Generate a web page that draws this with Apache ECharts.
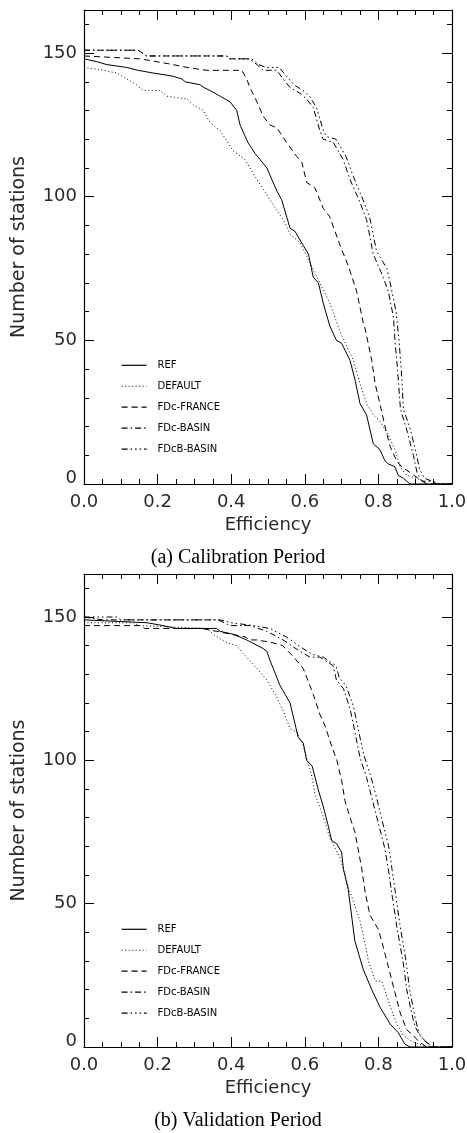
<!DOCTYPE html>
<html><head><meta charset="utf-8">
<script src="https://cdn.jsdelivr.net/npm/echarts@6/dist/echarts.min.js"></script>
<style>html,body{margin:0;padding:0;background:#fff}#c{width:467px;height:1133px}</style>
</head><body><div id="c"></div>
<script>
// ---------- DATA ----------
const seriesNames = ['REF', 'DEFAULT', 'FDc-FRANCE', 'FDc-BASIN', 'FDcB-BASIN'];
const panelTitles = ['(a) Calibration Period', '(b) Validation Period'];
const xAxisName = 'Efficiency';
const yAxisName = 'Number of stations';

// Calibration period: [efficiency, number of stations]
const calREF = [[0,148],[0.035,147],[0.062,146],[0.116,145],[0.147,144],[0.19,143],[0.24,142],[0.266,141],[0.275,140],[0.315,139],[0.326,138],[0.342,137],[0.37,135],[0.397,133],[0.415,130],[0.424,125],[0.445,119],[0.465,115],[0.478,113],[0.497,110],[0.524,102],[0.537,99],[0.56,89],[0.573,88],[0.596,83],[0.61,80],[0.623,72],[0.637,70],[0.65,63],[0.668,55],[0.686,50],[0.70,49],[0.723,43],[0.737,36],[0.75,28],[0.768,24],[0.786,14],[0.804,12],[0.818,8],[0.827,7],[0.845,6],[0.854,3],[0.868,2],[0.886,0],[1,0]];
const calDEFAULT = [[0,145],[0.053,144],[0.09,143],[0.116,141],[0.143,139],[0.161,137],[0.207,137],[0.225,135],[0.28,134],[0.297,132],[0.324,130],[0.342,126],[0.37,123],[0.405,116],[0.437,113],[0.47,106],[0.505,99],[0.541,92],[0.56,87],[0.587,84],[0.614,77],[0.641,70],[0.668,63],[0.696,53],[0.732,43],[0.75,35],[0.768,28],[0.786,24],[0.804,22],[0.827,17],[0.845,12],[0.859,6],[0.877,3],[0.904,2],[0.935,0],[1,0]];
const calFRANCE = [[0,149],[0.152,148],[0.198,147],[0.242,146],[0.28,145],[0.334,144],[0.429,144],[0.442,141],[0.451,138],[0.47,133],[0.487,128],[0.505,125],[0.524,124],[0.55,119],[0.578,114],[0.592,112],[0.605,105],[0.628,103],[0.65,96],[0.668,93],[0.696,83],[0.718,76],[0.741,67],[0.759,56],[0.764,54],[0.782,43],[0.791,35],[0.804,28],[0.818,20],[0.832,13],[0.85,8],[0.863,6],[0.886,4],[0.908,2],[0.931,0],[1,0]];
const calBASIN = [[0,151],[0.147,151],[0.17,149],[0.388,149],[0.395,148],[0.45,148],[0.47,146],[0.487,144],[0.524,144],[0.541,141],[0.56,138],[0.587,136],[0.605,134],[0.623,131],[0.641,123],[0.65,120],[0.677,119],[0.704,113],[0.723,106],[0.75,98],[0.768,92],[0.786,80],[0.813,72],[0.827,67],[0.841,58],[0.845,50],[0.852,40],[0.86,26],[0.879,18],[0.895,10],[0.905,4],[0.918,1],[0.94,1],[0.96,0],[1,0]];
const calFDcB = [[0,151],[0.147,151],[0.17,149],[0.388,149],[0.395,148],[0.455,148],[0.475,146],[0.495,145],[0.53,145],[0.55,142],[0.57,139],[0.595,137],[0.613,135],[0.632,131],[0.648,124],[0.658,121],[0.685,120],[0.712,114],[0.732,107],[0.758,99],[0.776,93],[0.795,81],[0.823,75],[0.832,70],[0.848,60],[0.856,50],[0.862,40],[0.868,26],[0.887,19],[0.902,11],[0.912,5],[0.925,2],[0.945,1],[0.97,0],[1,0]];

// Validation period
const valREF = [[0,149],[0.171,148],[0.215,147],[0.25,146],[0.36,146],[0.37,145],[0.405,144],[0.442,142],[0.487,139],[0.497,138],[0.505,135],[0.533,126],[0.56,120],[0.582,108],[0.596,106],[0.605,100],[0.62,98],[0.636,90],[0.65,84],[0.664,77],[0.673,72],[0.686,71],[0.7,68],[0.705,62],[0.718,55],[0.736,37],[0.759,27],[0.782,20],[0.804,14],[0.832,8],[0.854,5],[0.872,1],[0.886,0],[1,0]];
const valDEFAULT = [[0,148],[0.134,148],[0.15,147],[0.334,146],[0.351,144],[0.388,141],[0.415,140],[0.442,136],[0.47,132],[0.497,128],[0.524,122],[0.542,117],[0.56,111],[0.578,110],[0.596,105],[0.605,101],[0.618,95],[0.628,88],[0.646,82],[0.668,73],[0.696,66],[0.718,56],[0.75,44],[0.764,36],[0.773,30],[0.791,23],[0.809,23],[0.827,16],[0.85,8],[0.868,4],[0.89,2],[0.93,0],[1,0]];
const valFRANCE = [[0,147],[0.152,147],[0.165,146],[0.32,146],[0.36,145],[0.4,144],[0.44,143],[0.447,142],[0.47,142],[0.514,141],[0.54,140],[0.57,136],[0.596,132],[0.623,123],[0.641,116],[0.655,112],[0.673,105],[0.687,100],[0.7,93],[0.709,86],[0.723,80],[0.736,75],[0.745,69],[0.755,62],[0.764,54],[0.777,46],[0.8,41],[0.813,35],[0.827,28],[0.845,19],[0.859,12],[0.877,6],[0.895,4],[0.909,2],[0.931,0],[1,0]];
const valBASIN = [[0,150],[0.05,149],[0.365,149],[0.397,147],[0.451,147],[0.497,145],[0.541,142],[0.587,138],[0.614,136],[0.641,136],[0.677,133],[0.686,128],[0.705,125],[0.723,118],[0.736,110],[0.75,101],[0.768,94],[0.782,87],[0.8,78],[0.818,69],[0.827,62],[0.836,54],[0.85,42],[0.868,29],[0.877,20],[0.89,12],[0.9,7],[0.913,4],[0.936,1],[0.94,0],[1,0]];
const valFDcB = [[0,150],[0.09,150],[0.1,149],[0.37,149],[0.4,148],[0.46,147],[0.505,146],[0.55,143],[0.595,139],[0.62,137],[0.65,136],[0.685,133],[0.693,129],[0.712,126],[0.732,119],[0.745,111],[0.76,102],[0.778,95],[0.793,88],[0.81,79],[0.828,70],[0.837,62],[0.846,54],[0.858,43],[0.875,30],[0.885,20],[0.9,10],[0.91,5],[0.926,2],[0.95,0],[1,0]];

const xMin = 0, xMax = 1, xStep = 0.2;
const yMin = 0, yMax = 165, yMajor = 50, yMinor = 10;

// ---------- STYLE ----------
const dashTypes = ['solid', [1, 2.5], [6, 4], [6, 3, 1.5, 3], [6, 3, 1.5, 3, 1.5, 3, 1.5, 3]];
const panelData = [
  [calREF, calDEFAULT, calFRANCE, calBASIN, calFDcB],
  [valREF, valDEFAULT, valFRANCE, valBASIN, valFDcB]
];
const grids = [
  {left: 84, top: 10, width: 368, height: 474},
  {left: 84, top: 574, width: 368, height: 473}
];
const legendTops = [359.7, 923.7];
const titleTops = [548, 1110.5];
const FONT = 'DejaVu Sans';
const lineCol = '#000';
const textCol = '#2a2a2a';

const option = {
  animation: false,
  backgroundColor: '#fff',
  grid: grids.map(g => Object.assign({outerBoundsMode: 'none', containLabel: false}, g)),
  title: panelTitles.map((t, i) => ({
    text: t, left: 238, top: titleTops[i], textAlign: 'center', padding: 0,
    textStyle: {fontFamily: 'Liberation Serif', fontSize: 20, fontWeight: 'normal', color: '#000'}
  })),
  legend: legendTops.map(top => ({
    data: seriesNames, orient: 'vertical', left: 121, top: top,
    itemWidth: 25, itemHeight: 14, itemGap: 9.75, padding: 0, selectedMode: false,
    itemStyle: {opacity: 0, borderWidth: 0},
    lineStyle: {width: 1.2},
    textStyle: {fontFamily: FONT, fontSize: 10, color: '#000', padding: [0, 0, 0, 6]}
  })),
  xAxis: [], yAxis: [], series: []
};

grids.forEach((g, gi) => {
  ['bottom', 'top'].forEach(pos => {
    option.xAxis.push({
      type: 'value', gridIndex: gi, position: pos, min: xMin, max: xMax, interval: xStep,
      axisLine: {show: true, onZero: false, lineStyle: {color: lineCol, width: 1.2}},
      axisTick: {show: true, inside: true, length: 10, lineStyle: {color: lineCol, width: 1}},
      minorTick: {show: true, splitNumber: 4, length: 5, lineStyle: {color: lineCol, width: 1}},
      splitLine: {show: false}, minorSplitLine: {show: false},
      axisLabel: pos === 'bottom'
        ? {show: true, margin: 9, fontFamily: FONT, fontSize: 18, color: textCol, formatter: v => v.toFixed(1)}
        : {show: false},
      name: pos === 'bottom' ? xAxisName : '',
      nameLocation: 'middle', nameGap: 32,
      nameTextStyle: {fontFamily: FONT, fontSize: 18, color: textCol}
    });
  });
  const xb = option.xAxis.length - 2;
  let yLabelIdx = -1;
  ['left', 'right'].forEach(pos => {
    option.yAxis.push({
      type: 'value', gridIndex: gi, position: pos, min: yMin, max: yMax, interval: yMajor,
      axisLine: {show: true, onZero: false, lineStyle: {color: lineCol, width: 1.2}},
      axisTick: {show: true, inside: true, length: 10, lineStyle: {color: lineCol, width: 1}},
      splitLine: {show: false},
      axisLabel: pos === 'left'
        ? {show: true, margin: 7, showMaxLabel: false, fontFamily: FONT, fontSize: 18, color: textCol,
           formatter: v => v === 0 ? '{z|0}' : String(v),
           rich: {z: {fontFamily: FONT, fontSize: 18, color: textCol, padding: [0, 0, 12, 0]}}}
        : {show: false},
      name: pos === 'left' ? yAxisName : '',
      nameLocation: 'middle', nameGap: 55, nameRotate: 90,
      nameTextStyle: {fontFamily: FONT, fontSize: 19, color: textCol}
    });
    if (pos === 'left') yLabelIdx = option.yAxis.length - 1;
    option.yAxis.push({
      type: 'value', gridIndex: gi, position: pos, min: yMin, max: yMax, interval: yMinor,
      axisLine: {show: false, onZero: false},
      axisTick: {show: true, inside: true, length: 5, lineStyle: {color: lineCol, width: 1}},
      splitLine: {show: false}, axisLabel: {show: false}
    });
  });
  panelData[gi].forEach((d, si) => {
    option.series.push({
      type: 'line', name: seriesNames[si], xAxisIndex: xb, yAxisIndex: yLabelIdx,
      data: d, symbol: 'none', showSymbol: false, silent: true,
      lineStyle: {color: '#000', width: 1, type: dashTypes[si]},
      itemStyle: {color: '#000'}
    });
  });
});

const chart = echarts.init(document.getElementById('c'), null, {renderer: 'canvas'});
chart.setOption(option);
</script>
</body></html>
